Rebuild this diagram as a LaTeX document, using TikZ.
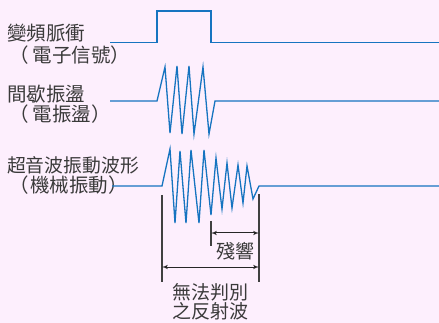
\documentclass[tikz,border=0pt]{standalone}
\usepackage{fontspec}
\setmainfont{Noto Sans CJK TC}
\usetikzlibrary{arrows,positioning}
\definecolor{bgpink}{RGB}{253,239,253}
\definecolor{waveblue}{RGB}{22,116,192}
\definecolor{inkgray}{RGB}{58,58,58}
\newcommand{\lpar}{（\kern3.5pt}
\tikzset{
  wave/.style={
    draw=waveblue,
    line width=1.3pt,
    line join=miter
  },
  caption/.style={
    text=inkgray,
    inner sep=0pt,
    anchor=west,
    font=\fontsize{19.5}{24}\selectfont
  },
  small caption/.style={
    caption,
    anchor=center,
    font=\fontsize{19}{22}\selectfont
  },
  marker/.style={
    draw=black!75,
    line width=1.2pt
  },
  spanarrow/.style={
    <->,
    draw=black!85,
    line width=1pt
  }
}

\begin{document}
\begin{tikzpicture} [x=1pt, y=-1pt, >=latex', node distance=20pt]
 \fill[bgpink] (0,0) rectangle (439,323);
 \useasboundingbox (0,0) rectangle (439,323);
 % labels on the left
 \node[caption] (pulse_a) at (7,33) {變頻脈衝};
 \node[caption] (pulse_b) [below=22pt of pulse_a.west, anchor=west, xshift=2.5pt] {\lpar 電子信號）};
 \node[caption] (burst_a) at (7,94) {間歇振盪};
 \node[caption] (burst_b) [below=of burst_a.west, anchor=west, xshift=2.5pt] {\lpar 電振盪）};
 \node[caption, font=\fontsize{18.8}{22}\selectfont] (wave_a) at (7,165) {超音波振動波形};
 \node[caption] (wave_b) [below=of wave_a.west, anchor=west, xshift=2.5pt] {（\kern1pt 機械振動）};
 % signals
 \draw[wave] (110,42.5) -- (157,42.5) -- (157,11) -- (211,11) -- (211,42.5) -- (439,42.5);
 \draw[wave] (110,101) -- (157,101) -- (165,67) -- (170,133) -- (177,66) -- (182,134)
   -- (189,66) -- (194,134) -- (203,67) -- (209,134) -- (215,101) -- (439,101);
 \draw[wave] (112,186) -- (162,186) -- (170,149) -- (175,223) -- (180,151) -- (186,223)
   -- (191,150) -- (199,223) -- (204,150) -- (211,215) -- (216,158) -- (222,209)
   -- (227,163) -- (232,208) -- (238,165) -- (243,203) -- (247,166) -- (253,199)
   -- (259,186) -- (439,186);
 % time marks
 \coordinate (start_top) at (162,195);
 \coordinate (start_bot) at (162,282);
 \coordinate (end_top) at (259,194);
 \coordinate (end_bot) at (259,282);
 \coordinate (ring_top) at (211,221);
 \coordinate (ring_bot) at (211,246);
 \draw[marker] (start_top) -- (start_bot);
 \draw[marker] (end_top) -- (end_bot);
 \draw[marker] (ring_top) -- (ring_bot);
 \coordinate (ring_l) at (211,233);
 \coordinate (ring_r) at (259,233);
 \coordinate (blind_l) at (162,267);
 \coordinate (blind_r) at (259,267);
 \draw[spanarrow] (ring_l) -- (ring_r);
 \draw[spanarrow] (blind_l) -- (blind_r);
 \node[small caption] (ring_lbl) at (235,251) {殘響};
 \node[small caption] (blind_a) at (210,292) {無法判別};
 \node[small caption] (blind_b) [below=19pt of blind_a.center, anchor=center] {之反射波};
\end{tikzpicture}
\end{document}
